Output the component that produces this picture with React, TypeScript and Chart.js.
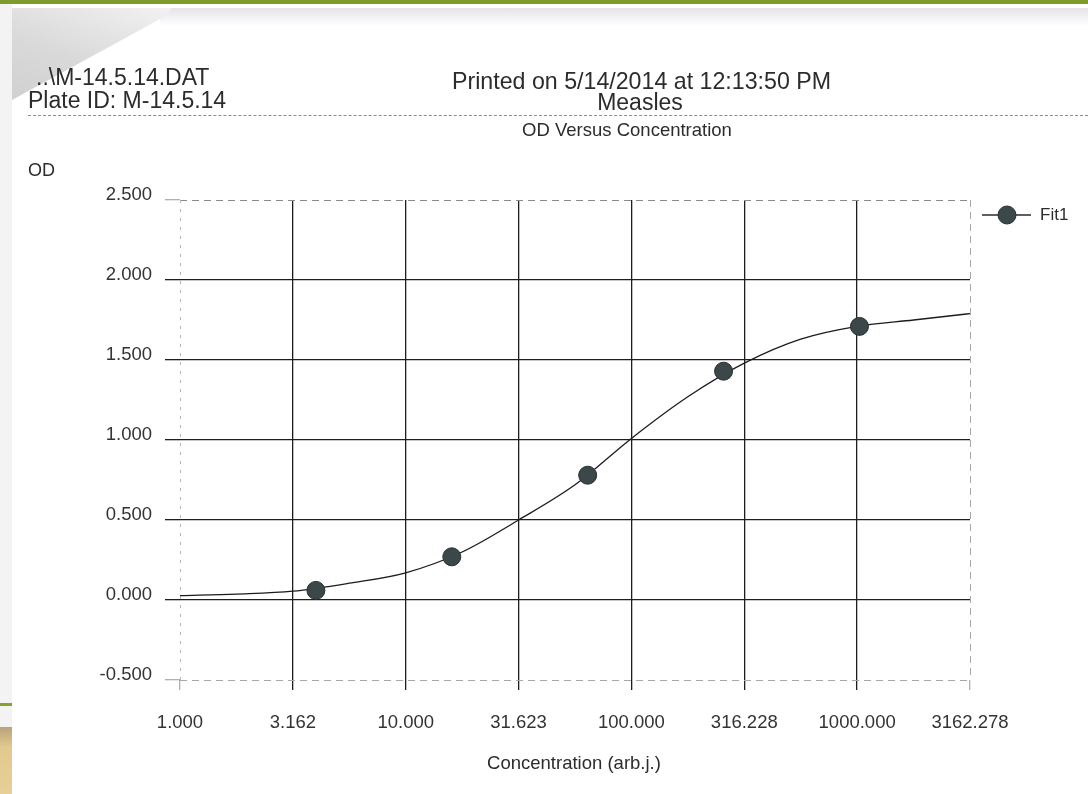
import React, { useEffect, useRef } from 'react';
import { Chart, registerables } from 'chart.js';

Chart.register(...registerables);

// ---- data ----
const seriesLabel = 'Fit1';
const concentrations = [4, 16, 64, 256, 1024];
const odValues = [0.06, 0.27, 0.78, 1.43, 1.71];

const fitConcentrations = [1, 1.778, 3.162, 5.623, 10, 17.78, 31.623, 56.23, 100, 177.8, 316.228, 562.3, 1000, 1778, 3162.278];
const fitOd = [0.027, 0.037, 0.055, 0.105, 0.17, 0.3, 0.5, 0.72, 1.01, 1.27, 1.48, 1.63, 1.71, 1.75, 1.79];

const xTickValues = [1, 3.162, 10, 31.623, 100, 316.228, 1000, 3162.278];
const xTickLabels = ['1.000', '3.162', '10.000', '31.623', '100.000', '316.228', '1000.000', '3162.278'];
const yTickValues = [-0.5, 0, 0.5, 1, 1.5, 2, 2.5];
const yTickLabels = ['-0.500', '0.000', '0.500', '1.000', '1.500', '2.000', '2.500'];

const FONT = '"Liberation Sans", Arial, sans-serif';
const TEXT = '#2c2c2c';

const framePlugin = {
  id: 'frame',
  beforeDatasetsDraw(chart: any) {
    const { ctx, chartArea } = chart;
    const { left, right, top, bottom } = chartArea;
    ctx.save();
    ctx.lineWidth = 1;
    ctx.setLineDash([7, 5]);
    ctx.strokeStyle = '#8a8a8a';
    ctx.beginPath();
    ctx.moveTo(left, top + 0.5);
    ctx.lineTo(right, top + 0.5);
    ctx.stroke();
    ctx.strokeStyle = '#a8a8a8';
    ctx.beginPath();
    ctx.moveTo(right + 0.5, top);
    ctx.lineTo(right + 0.5, bottom);
    ctx.moveTo(left, bottom + 0.5);
    ctx.lineTo(right, bottom + 0.5);
    ctx.stroke();
    ctx.setLineDash([3, 6]);
    ctx.strokeStyle = '#b5b5b5';
    ctx.beginPath();
    ctx.moveTo(left + 0.5, top);
    ctx.lineTo(left + 0.5, bottom);
    ctx.stroke();
    ctx.restore();
  },
};

const legendPlugin = {
  id: 'sideLegend',
  afterDraw(chart: any) {
    const { ctx, chartArea } = chart;
    const x0 = chartArea.right + 12;
    const y = chartArea.top + 15;
    ctx.save();
    ctx.strokeStyle = '#2a2a2a';
    ctx.lineWidth = 1.6;
    ctx.beginPath();
    ctx.moveTo(x0, y);
    ctx.lineTo(x0 + 49, y);
    ctx.stroke();
    ctx.beginPath();
    ctx.arc(x0 + 25, y, 9, 0, Math.PI * 2);
    ctx.fillStyle = '#3c4749';
    ctx.fill();
    ctx.strokeStyle = '#283032';
    ctx.lineWidth = 1;
    ctx.stroke();
    ctx.fillStyle = TEXT;
    ctx.font = `17px ${FONT}`;
    ctx.textBaseline = 'middle';
    ctx.textAlign = 'left';
    ctx.fillText(seriesLabel, x0 + 58, y);
    ctx.restore();
  },
};

function ChartCanvas() {
  const ref = useRef<HTMLCanvasElement | null>(null);
  useEffect(() => {
    if (!ref.current) return;
    const lastX = xTickValues.length - 1;
    const lastY = yTickValues.length - 1;
    const chart = new Chart(ref.current, {
      type: 'scatter',
      data: {
        datasets: [
          {
            label: seriesLabel,
            data: fitConcentrations.map((x, i) => ({ x, y: fitOd[i] })),
            showLine: true,
            borderColor: '#1c1c1c',
            borderWidth: 1.3,
            pointRadius: 0,
            cubicInterpolationMode: 'monotone',
            order: 2,
          } as any,
          {
            label: seriesLabel + ' points',
            data: concentrations.map((x, i) => ({ x, y: odValues[i] })),
            showLine: false,
            pointRadius: 9,
            backgroundColor: '#3c4749',
            borderColor: '#283032',
            borderWidth: 1,
            order: 1,
          },
        ],
      },
      options: {
        responsive: false,
        animation: false,
        layout: { padding: { left: 0, right: 118, top: 200, bottom: 0 } },
        plugins: { legend: { display: false }, tooltip: { enabled: false } },
        scales: {
          x: {
            type: 'logarithmic',
            min: 1,
            max: 3162.278,
            afterBuildTicks: (s: any) => {
              s.ticks = xTickValues.map((v) => ({ value: v }));
            },
            afterFit: (s: any) => {
              s.height = 114;
            },
            border: { display: false },
            grid: {
              color: (c: any) => (c.index === 0 || c.index === lastX ? 'rgba(0,0,0,0)' : '#1e1e1e'),
              tickColor: (c: any) => (c.index === 0 || c.index === lastX ? '#b0b0b0' : '#1e1e1e'),
              lineWidth: 1.3,
              tickLength: 10,
            },
            ticks: {
              autoSkip: false,
              maxRotation: 0,
              padding: 22,
              color: '#333',
              font: { family: FONT, size: 18.5 },
              callback: (_v: any, i: number) => xTickLabels[i],
            },
          },
          y: {
            type: 'linear',
            min: -0.5,
            max: 2.5,
            afterBuildTicks: (s: any) => {
              s.ticks = yTickValues.map((v) => ({ value: v }));
            },
            afterFit: (s: any) => {
              s.width = 180;
            },
            border: { display: false },
            grid: {
              color: (c: any) => (c.index === 0 || c.index === lastY ? 'rgba(0,0,0,0)' : '#1e1e1e'),
              tickColor: (c: any) => (c.index === 0 || c.index === lastY ? '#b0b0b0' : '#1e1e1e'),
              lineWidth: 1.3,
              tickLength: 15,
            },
            ticks: {
              padding: 13,
              labelOffset: -5,
              color: '#333',
              font: { family: FONT, size: 18.5 },
              callback: (_v: any, i: number) => yTickLabels[i],
            },
          },
        },
      } as any,
      plugins: [framePlugin, legendPlugin],
    });
    return () => chart.destroy();
  }, []);
  return (
    <canvas
      ref={ref}
      width={1088}
      height={794}
      style={{ position: 'absolute', left: 0, top: 0, width: 1088, height: 794 }}
    />
  );
}

const textBase: React.CSSProperties = {
  position: 'absolute',
  fontFamily: FONT,
  color: TEXT,
  lineHeight: 1,
  whiteSpace: 'nowrap',
  margin: 0,
};

export default function App() {
  return (
    <div
      style={{
        position: 'fixed',
        left: 0,
        top: 0,
        width: 1088,
        height: 794,
        background: '#ffffff',
        overflow: 'hidden',
      }}
    >
      {/* slide frame decorations */}
      <div style={{ position: 'absolute', left: 0, top: 0, width: 1088, height: 4, background: '#7f9b2c' }} />
      <div style={{ position: 'absolute', left: 0, top: 4, width: 12, height: 790, background: '#f3f3f3' }} />
      <div style={{ position: 'absolute', left: 0, top: 703, width: 12, height: 3, background: '#86a12e' }} />
      <div
        style={{
          position: 'absolute',
          left: 0,
          top: 727,
          width: 12,
          height: 67,
          background: 'linear-gradient(#b9a27a, #e2c98f 30%, #e6cf98)',
        }}
      />
      <div
        style={{
          position: 'absolute',
          left: 160,
          top: 8,
          width: 928,
          height: 18,
          background: 'linear-gradient(#e4e4e8, #f7f7f9 70%, #ffffff)',
        }}
      />
      <div
        style={{
          position: 'absolute',
          left: 12,
          top: 8,
          width: 160,
          height: 100,
          background: 'linear-gradient(200deg, #f2f2f2, #d9d9d9 55%, #cfcfcf)',
          clipPath: 'polygon(0 0, 100% 0, 96% 8%, 0 92%)',
        }}
      />

      <ChartCanvas />

      {/* header texts */}
      <div style={{ ...textBase, left: 36, top: 66, fontSize: 23 }}>..\M-14.5.14.DAT</div>
      <div style={{ ...textBase, left: 28, top: 89, fontSize: 23 }}>Plate ID: M-14.5.14</div>
      <div style={{ ...textBase, left: 452, top: 70, fontSize: 23.2 }}>Printed on 5/14/2014 at 12:13:50 PM</div>
      <div style={{ ...textBase, left: 0, width: 1280, textAlign: 'center', top: 91, fontSize: 23 }}>Measles</div>
      <div
        style={{
          position: 'absolute',
          left: 28,
          top: 115,
          width: 1060,
          height: 0,
          borderTop: '1.5px dashed #8c8c8c',
        }}
      />
      <div style={{ ...textBase, left: 0, width: 1254, textAlign: 'center', top: 121, fontSize: 18.5 }}>
        OD Versus Concentration
      </div>
      <div style={{ ...textBase, left: 28, top: 161, fontSize: 18 }}>OD</div>
      <div style={{ ...textBase, left: 0, width: 1148, textAlign: 'center', top: 754, fontSize: 18.5 }}>
        Concentration (arb.j.)
      </div>
    </div>
  );
}
